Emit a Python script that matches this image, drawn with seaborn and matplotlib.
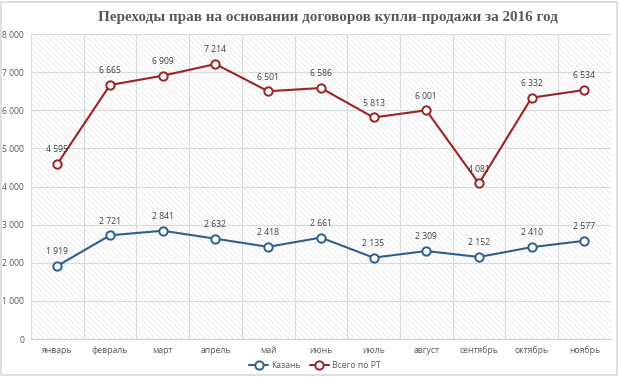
import matplotlib
matplotlib.use("Agg")
import matplotlib.pyplot as plt
import seaborn as sns
import pandas as pd
from matplotlib.patches import Rectangle

months = ["январь", "февраль", "март", "апрель", "май", "июнь", "июль",
          "август", "сентябрь", "октябрь", "ноябрь"]
kazan = [1919, 2721, 2841, 2632, 2418, 2661, 2135, 2309, 2152, 2410, 2577]
rt_total = [4595, 6665, 6909, 7214, 6501, 6586, 5813, 6001, 4081, 6332, 6534]
series_names = ["Казань", "Всего по РТ"]
yticks = [0, 1000, 2000, 3000, 4000, 5000, 6000, 7000, 8000]

sns.set_style("white")
plt.rcParams['font.family'] = ['Open Sans', 'DejaVu Sans']
plt.rcParams['hatch.linewidth'] = 0.45

fig = plt.figure(figsize=(6.2, 3.79), dpi=100)
ax = fig.add_axes([0.05, 0.1055, 0.935, 0.8045])

# hatched plot area
ax.add_patch(Rectangle((0, 0), 1, 1, transform=ax.transAxes, facecolor='white',
                       edgecolor='#e2e2e2', hatch='\\\\\\\\\\\\', linewidth=0, zorder=0))

colors = ['#2f5f8f', '#9b2323']
df_k = pd.DataFrame({'month': months, 'value': kazan})
df_r = pd.DataFrame({'month': months, 'value': rt_total})
for df, c, name in [(df_k, colors[0], series_names[0]), (df_r, colors[1], series_names[1])]:
    sns.lineplot(data=df, x='month', y='value', ax=ax, color=c, linewidth=1.5,
                 marker='o', markersize=6, markerfacecolor='white',
                 markeredgecolor=c, markeredgewidth=1.4, label=name, zorder=3)

def fmt(v):
    return f"{v:,}".replace(",", " ")

for vals in (kazan, rt_total):
    for i, v in enumerate(vals):
        ax.annotate(fmt(v), (i, v), xytext=(0, 7), textcoords='offset points',
                    ha='center', va='bottom', fontsize=6.2, color='#404040', zorder=4)

ax.set_xlim(-0.5, len(months) - 0.5)
ax.set_ylim(0, 8000)
ax.set_yticks(yticks)
ax.set_yticklabels([fmt(t) for t in yticks], fontsize=6.2, color='#595959')
ax.set_xticks(range(len(months)))
ax.set_xticklabels(months, fontsize=6.2, color='#595959')
ax.tick_params(axis='both', which='both', length=0, pad=5)
ax.grid(False)
for y in yticks:
    ax.axhline(y, color='#dadada', linewidth=0.8, zorder=1)
for x in range(len(months) + 1):
    ax.axvline(x - 0.5, color='#dadada', linewidth=0.8, zorder=1)
ax.set_xlabel('')
ax.set_ylabel('')
for s in ['top', 'right', 'left']:
    ax.spines[s].set_visible(False)
ax.spines['bottom'].set_color('#d0d0d0')
ax.spines['bottom'].set_linewidth(0.8)

leg = ax.legend(loc='center', bbox_to_anchor=(0.49, -0.088), ncol=2, frameon=False,
                fontsize=6.2, handlelength=2.2, columnspacing=1.0, handletextpad=0.4)
for t in leg.get_texts():
    t.set_color('#595959')

fig.text(0.529, 0.955, "Переходы прав на основании договоров купли-продажи за 2016 год",
         ha='center', va='center', fontsize=10.9, fontweight='bold', color='#595959',
         family=['Liberation Serif', 'DejaVu Serif'])

fig.patches.append(Rectangle((0.002, 0.01), 0.993, 0.985, transform=fig.transFigure,
                             fill=False, edgecolor='#d9d9d9', linewidth=1.2))

fig.savefig('out.png', dpi=100)
